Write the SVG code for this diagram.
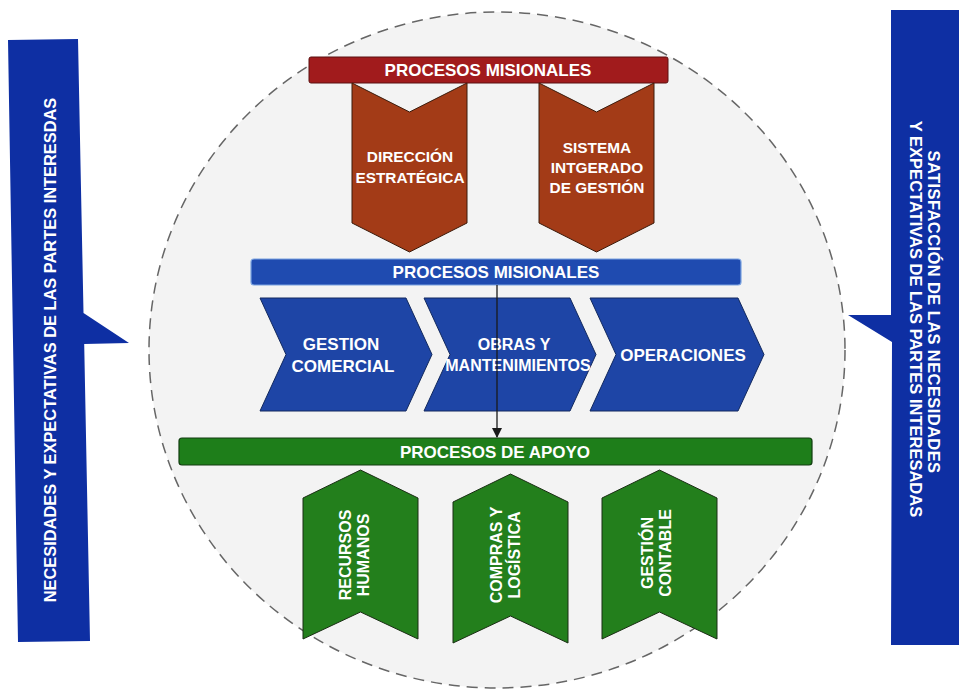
<svg xmlns="http://www.w3.org/2000/svg" width="959" height="692" viewBox="0 0 959 692">
  <defs>
    <style>
      .t { font-family: "Liberation Sans", Arial, sans-serif; font-weight: bold; fill: #ffffff; text-anchor: middle; }
      .f17 { font-size: 17px; }
      .f16 { font-size: 16px; }
      .f15 { font-size: 15.4px; }
      .callout { fill: #0E2FA3; }
      .red-banner { fill: #A11B1C; stroke: #5a1010; stroke-width: 1; }
      .red-chev { fill: #A33B17; stroke: #3b1a0a; stroke-width: 1; }
      .blue-banner { fill: #1F4BB0; stroke: #7aa2e0; stroke-width: 1.2; }
      .blue-chev { fill: #1E45A6; stroke: #12295e; stroke-width: 1; }
      .green-banner { fill: #1E7E1A; stroke: #123d10; stroke-width: 1.2; }
      .green-chev { fill: #237F1C; stroke: #1a2e14; stroke-width: 1; }
      .conn { stroke: #1a1a1a; stroke-width: 1.3; fill: none; }
    </style>
    <marker id="arrow" markerWidth="10" markerHeight="10" refX="9" refY="5" orient="auto" markerUnits="userSpaceOnUse">
      <path d="M0,0 L10,5 L0,10 Z" fill="#1a1a1a"/>
    </marker>
  </defs>

  <rect width="959" height="692" fill="#ffffff"/>

  <g id="boundary">
    <ellipse cx="497" cy="350" rx="348" ry="338" fill="#F3F3F3" stroke="#666666" stroke-width="1.5" stroke-dasharray="11 7"/>
  </g>

  <g id="callout-left">
    <polygon class="callout" points="8,40 78,39 83.5,313 129,343 84.2,344 90,641 18,642"/>
    <text class="t" font-size="16.4" transform="translate(56,350) rotate(-90)">NECESIDADES Y EXPECTATIVAS DE LAS PARTES INTERESDAS</text>
  </g>

  <g id="callout-right">
    <polygon class="callout" points="891,10 959,10 959,645 891,645 892,342 848,315 891,315"/>
    <text class="t" font-size="16.5" letter-spacing="0.4" transform="translate(928,312) rotate(90)">SATISFACCIÓN DE LAS NECESIDADES</text>
    <text class="t" font-size="16.5" transform="translate(910,319) rotate(90)">Y EXPECTATIVAS DE LAS PARTES INTERESADAS</text>
  </g>

  <g id="estrategicos-banner">
    <rect class="red-banner" x="309" y="57" width="359" height="26" rx="2"/>
    <text class="t f17" x="488" y="76">PROCESOS MISIONALES</text>
  </g>

  <g id="direccion-estrategica">
    <polygon class="red-chev" points="352,83 409.5,112 467,83 467,223 409.5,252 352,223"/>
    <text class="t f15" x="410" y="162">DIRECCIÓN</text>
    <text class="t f15" x="410" y="183">ESTRATÉGICA</text>
  </g>

  <g id="sistema-integrado">
    <polygon class="red-chev" points="539,83 596.5,112 654,83 654,223 596.5,252 539,223"/>
    <text class="t f15" x="597" y="153">SISTEMA</text>
    <text class="t f15" x="597" y="173">INTGERADO</text>
    <text class="t f15" x="597" y="193">DE GESTIÓN</text>
  </g>

  <g id="misionales-banner">
    <rect class="blue-banner" x="251" y="259" width="490" height="26" rx="3"/>
    <text class="t f17" x="496" y="278">PROCESOS MISIONALES</text>
  </g>

  <g id="gestion-comercial">
    <polygon class="blue-chev" points="260,298 406,298 432,354.5 406,411 260,411 286,354.5"/>
    <text class="t f17" x="341" y="350">GESTION</text>
    <text class="t f17" x="343" y="372">COMERCIAL</text>
  </g>

  <g id="obras-mantenimientos">
    <polygon class="blue-chev" points="424,298 570,298 596,354.5 570,411 424,411 450,354.5"/>
    <text class="t f16" x="514" y="350">OBRAS Y</text>
    <text class="t f16" x="518" y="371">MANTENIMIENTOS</text>
  </g>

  <g id="operaciones">
    <polygon class="blue-chev" points="590,298 738,298 764,354.5 738,411 590,411 616,354.5"/>
    <text class="t f17" x="683" y="361">OPERACIONES</text>
  </g>

  <g id="apoyo-banner">
    <rect class="green-banner" x="179" y="438" width="633" height="27" rx="3"/>
    <text class="t f17" x="495" y="457.5">PROCESOS DE APOYO</text>
  </g>

  <g id="recursos-humanos">
    <polygon class="green-chev" points="360.5,470 418,498 418,639 360.5,612 303,639 303,498"/>
    <text class="t f16" transform="translate(351,555) rotate(-90)">RECURSOS</text>
    <text class="t f16" transform="translate(369,555) rotate(-90)">HUMANOS</text>
  </g>

  <g id="compras-logistica">
    <polygon class="green-chev" points="510.5,474 568,502 568,643 510.5,616 453,643 453,502"/>
    <text class="t f16" transform="translate(502,555) rotate(-90)">COMPRAS Y</text>
    <text class="t f16" transform="translate(520,555) rotate(-90)">LOGÍSTICA</text>
  </g>

  <g id="gestion-contable">
    <polygon class="green-chev" points="659.5,470 717,498 717,639 659.5,612 602,639 602,498"/>
    <text class="t f16" transform="translate(653,553) rotate(-90)">GESTIÓN</text>
    <text class="t f16" transform="translate(671,553) rotate(-90)">CONTABLE</text>
  </g>

  <g id="connectors">
    <line class="conn" x1="497" y1="285" x2="497" y2="437" marker-end="url(#arrow)"/>
  </g>
</svg>
